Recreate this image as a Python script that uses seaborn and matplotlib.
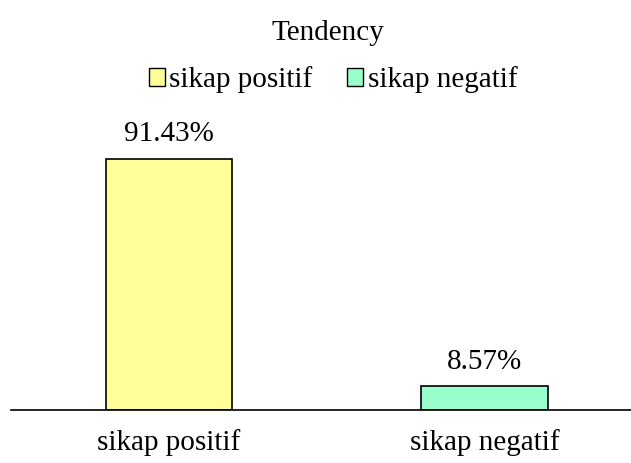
import matplotlib.pyplot as plt
import seaborn as sns
import pandas as pd

categories = ["sikap positif", "sikap negatif"]
values = [91.43, 8.57]
labels = ["91.43%", "8.57%"]
colors = ["#FFFF99", "#99FFCC"]

df = pd.DataFrame({"kategori": categories, "persen": values})

sns.set_style("white")
plt.rcParams["font.family"] = ["Liberation Serif", "DejaVu Serif"]
plt.rcParams["text.color"] = "black"
plt.rcParams["xtick.color"] = "black"

fig = plt.figure(figsize=(6.31, 4.63), dpi=100)
ax = fig.add_axes([11 / 631, 53 / 463, 620 / 631, 275 / 463])

sns.barplot(data=df, x="kategori", y="persen", hue="kategori", palette=colors,
            saturation=1, width=0.40, edgecolor="black", linewidth=1.2,
            legend=False, ax=ax)

for i, (v, lab) in enumerate(zip(values, labels)):
    ax.annotate(lab, (i, v), xytext=(0, 8.5), textcoords="offset points",
                ha="center", va="bottom", fontsize=21)

ax.set_xlim(-0.5, 1.464)
ax.set_ylim(0, 100)
ax.set_xlabel("")
ax.set_ylabel("")
ax.set_yticks([])
ax.tick_params(axis="x", length=0, labelsize=21, pad=14)
for s in ["top", "right", "left"]:
    ax.spines[s].set_visible(False)
ax.spines["bottom"].set_linewidth(1.2)
ax.spines["bottom"].set_color("black")

handles = [plt.Rectangle((0, 0), 1, 1, facecolor=c, edgecolor="black", linewidth=1)
           for c in colors]
fig.legend(handles, categories, loc="center", bbox_to_anchor=(333 / 631, 1 - 80 / 463),
           ncol=2, frameon=False, fontsize=21, handlelength=0.55, handleheight=0.55,
           handletextpad=0.15, columnspacing=1.2)

fig.text(328 / 631, 1 - 33 / 463, "Tendency", ha="center", va="center", fontsize=21)

fig.savefig("out.png", dpi=100)
